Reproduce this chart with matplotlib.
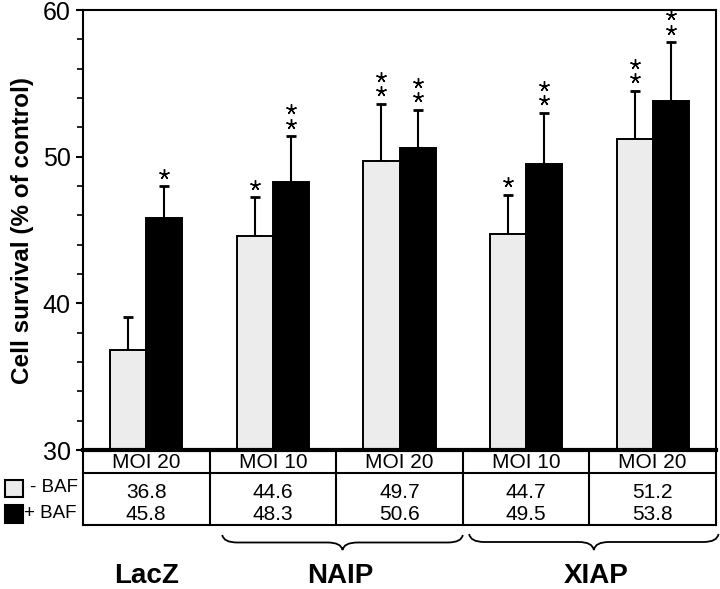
import numpy as np
import matplotlib.pyplot as plt
from matplotlib.patches import Rectangle, PathPatch
from matplotlib.path import Path
import matplotlib.transforms as mtransforms

plt.rcParams['font.family'] = ['Liberation Sans', 'DejaVu Sans']

# data
moi = ['MOI 20', 'MOI 10', 'MOI 20', 'MOI 10', 'MOI 20']
minus_baf = [36.8, 44.6, 49.7, 44.7, 51.2]
plus_baf = [45.8, 48.3, 50.6, 49.5, 53.8]
minus_err = [2.3, 2.65, 3.9, 2.7, 3.3]
plus_err = [2.2, 3.1, 2.6, 3.5, 4.0]
minus_stars = [0, 1, 2, 1, 2]
plus_stars = [1, 2, 2, 2, 2]
groups = ['LacZ', 'NAIP', 'XIAP']
group_x = [0, 1.53, 3.55]

x = np.arange(len(moi))
w = 0.285

fig = plt.figure(figsize=(7.2, 5.89), dpi=100)
ax = fig.add_axes([83/720, 1 - 450/589, 633/720, 440/589])

ax.bar(x - w/2, minus_baf, w, color='#ececec', edgecolor='black', linewidth=1.4, zorder=2)
ax.bar(x + w/2, plus_baf, w, color='black', edgecolor='black', linewidth=1.4, zorder=2)
ax.errorbar(x - w/2, minus_baf, yerr=[np.zeros(5), minus_err], fmt='none', ecolor='black',
            elinewidth=1.5, capsize=3.8, capthick=2, zorder=1)
ax.errorbar(x + w/2, plus_baf, yerr=[np.zeros(5), plus_err], fmt='none', ecolor='black',
            elinewidth=1.5, capsize=3.8, capthick=2, zorder=1)

# significance stars
for xs, vals, errs, stars in [(x - w/2, minus_baf, minus_err, minus_stars),
                              (x + w/2, plus_baf, plus_err, plus_stars)]:
    for xi, v, e, n in zip(xs, vals, errs, stars):
        for k in range(n):
            ax.plot(xi, v + e + 0.85 + k * 1.0, marker=(5, 2), color='black',
                    markersize=7.5, markeredgewidth=1.0, clip_on=False)

ax.set_xlim(-0.5, 4.5)
ax.set_ylim(30, 60)
ax.set_yticks([30, 40, 50, 60])
ax.set_yticks(np.arange(30, 61, 2), minor=True)
ax.set_xticks([])
ax.tick_params(axis='y', which='major', length=5, width=1.5, labelsize=18, pad=4)
ax.tick_params(axis='y', which='minor', length=4, width=1.2)
for s in ['left', 'right', 'top']:
    ax.spines[s].set_linewidth(1.5)
ax.spines['bottom'].set_linewidth(3)
ax.set_ylabel('Cell survival (% of control)', fontsize=17.5, fontweight='bold', labelpad=6)

# table under the axis
tr = mtransforms.blended_transform_factory(ax.transData, ax.transAxes)
y_row = -23/440
y_bot = -75/440
ax.plot([-0.5, 4.5], [y_row, y_row], color='black', lw=1.5, transform=tr, clip_on=False)
ax.plot([-0.5, 4.5], [y_bot, y_bot], color='black', lw=1.5, transform=tr, clip_on=False)
for b in np.arange(-0.5, 4.6, 1):
    ax.plot([b, b], [0, y_bot], color='black', lw=1.5, transform=tr, clip_on=False)
for xi, m, a, b in zip(x, moi, minus_baf, plus_baf):
    ax.text(xi, -12/440, m, ha='center', va='center', fontsize=15, transform=tr)
    ax.text(xi, -42/440, f'{a:.1f}', ha='center', va='center', fontsize=15, transform=tr)
    ax.text(xi, -65/440, f'{b:.1f}', ha='center', va='center', fontsize=15, transform=tr)

# legend at left of table
fig.add_artist(Rectangle((5/720, 1 - 497/589), 18/720, 17/589, facecolor='#ececec',
                         edgecolor='black', lw=1.5, transform=fig.transFigure))
fig.add_artist(Rectangle((5/720, 1 - 523/589), 18/720, 18/589, facecolor='black',
                         edgecolor='black', lw=1.5, transform=fig.transFigure))
fig.text(30/720, 1 - 488/589, '- BAF', ha='left', va='center', fontsize=13.5)
fig.text(24/720, 1 - 514/589, '+ BAF', ha='left', va='center', fontsize=13.5)


def brace(x0, x1, ytop, ybot):
    xm = (x0 + x1) / 2
    ymid = (ytop + ybot) / 2
    r = 0.12
    verts = [(x0, ytop), (x0 + 0.01, ymid), (x0 + r, ymid),
             (xm - r, ymid), (xm - 0.01, ymid), (xm, ybot),
             (xm + 0.01, ymid), (xm + r, ymid),
             (x1 - r, ymid), (x1 - 0.01, ymid), (x1, ytop)]
    codes = [Path.MOVETO, Path.CURVE3, Path.CURVE3,
             Path.LINETO, Path.CURVE3, Path.CURVE3,
             Path.CURVE3, Path.CURVE3,
             Path.LINETO, Path.CURVE3, Path.CURVE3]
    p = PathPatch(Path(verts, codes), facecolor='none', edgecolor='black', lw=1.3,
                  transform=tr, clip_on=False)
    ax.add_patch(p)


brace(0.6, 2.5, -85/440, -100/440)
brace(2.55, 4.52, -84/440, -100/440)

for g, gx in zip(groups, group_x):
    ax.text(gx, -133/440, g, ha='center', va='baseline', fontsize=20, fontweight='bold', transform=tr)

fig.savefig('out.png', dpi=100)
